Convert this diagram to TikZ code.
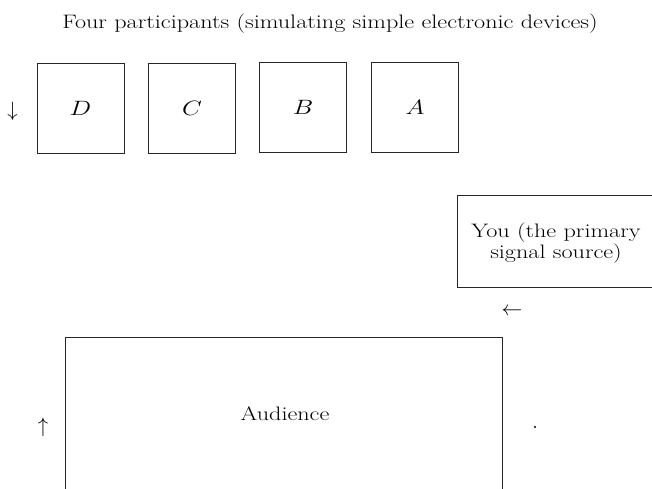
\documentclass[tikz,border=0pt]{standalone}
\newcommand{\wtxt}[1]{\scalebox{1.24}[1]{#1}}
\begin{document}
\begin{tikzpicture}[x=1pt,y=-1pt,
  frame/.style={draw=black!85,line width=0.9pt},
  part/.style={frame,minimum width=87pt,minimum height=90pt,inner sep=0pt,font=\fontsize{20}{24}\selectfont},
  lbl/.style={font=\fontsize{19.5}{21}\selectfont,inner sep=0pt},
  arr/.style={font=\fontsize{21}{25}\selectfont,inner sep=0pt}]
\useasboundingbox (0,0) rectangle (652,488);
\node[lbl,anchor=base] (title) at (330,28) {\wtxt{Four participants (simulating simple electronic devices)}};
\node[part] (D) at (80.5,108) {\wtxt{$D$}};
\node[part] (C) at (192,108) {\wtxt{$C$}};
\node[part] (B) at (303,107.5) {\wtxt{$B$}};
\node[part] (A) at (415,107) {\wtxt{$A$}};
\node[arr] (down) at (12.5,111) {$\downarrow$};
% You box, open on the right
\draw[frame] (652,195) -- (457,195) -- (457,287) -- (652,287);
\node[lbl,anchor=base] (you) at (556,237) {\wtxt{\begin{tabular}[t]{@{}c@{}}You (the primary\\signal source)\end{tabular}}};
\node[arr] (left) at (512,312) {$\leftarrow$};
% Audience box, open at the bottom
\draw[frame] (65,490) -- (65,337) -- (502,337) -- (502,490);
\node[lbl,anchor=base] (aud) at (285,420) {\wtxt{Audience}};
\node[arr] (up) at (43,427) {$\uparrow$};
\fill (535,427) circle (1.1pt);
\end{tikzpicture}
\end{document}
